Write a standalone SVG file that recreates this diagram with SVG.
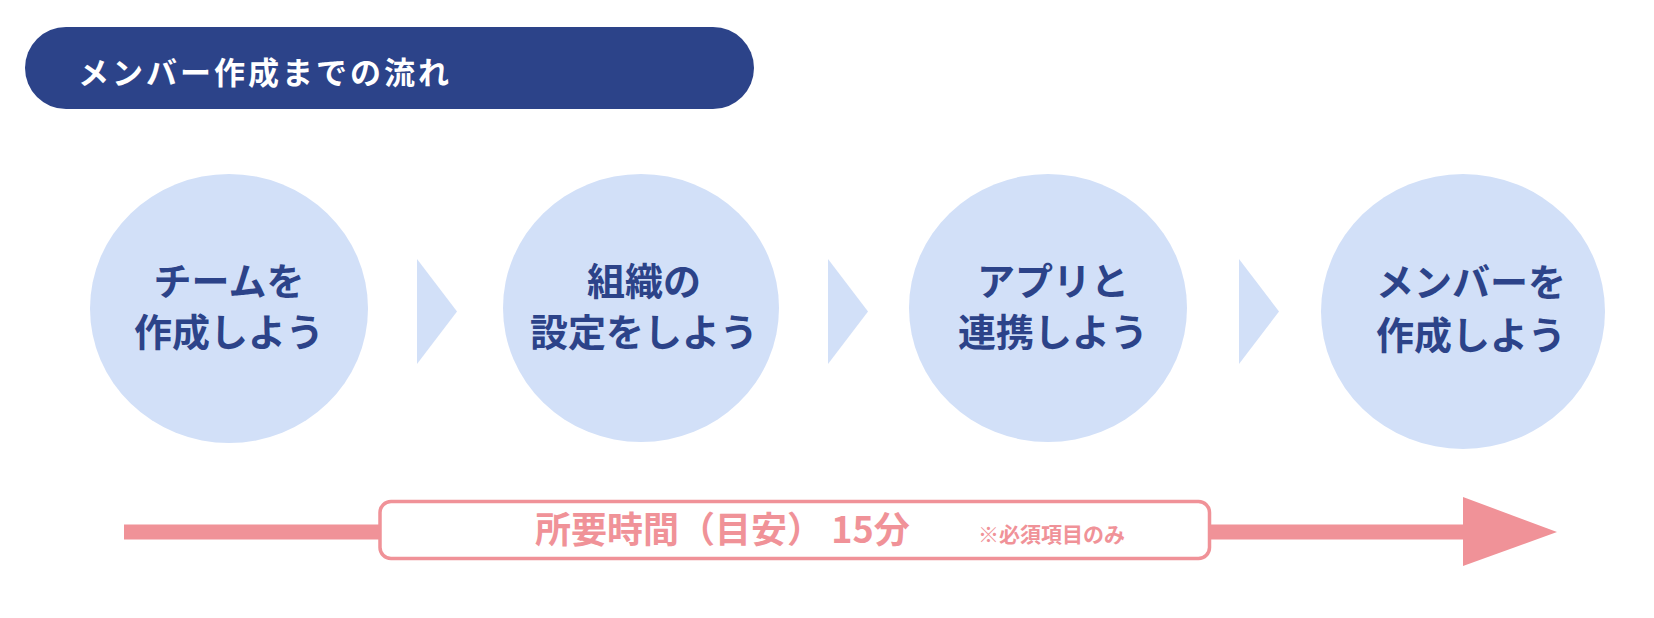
<svg xmlns="http://www.w3.org/2000/svg" width="1654" height="618" viewBox="0 0 1654 618">
  <style>
    .jp { font-family: "Noto Sans CJK JP", "Noto Sans CJK SC", sans-serif; font-weight: 700; }
    .step { fill: #D2E0F8; }
    .chev { fill: #D2E0F8; }
    .steptxt { fill: #2C4389; font-size: 38px; text-anchor: middle; }
    .pink { fill: #F09298; }
  </style>
  <rect width="1654" height="618" fill="#FFFFFF"/>

  <g id="title">
    <rect x="25" y="27" width="729" height="82" rx="41" ry="41" fill="#2C4389"/>
    <text class="jp" x="78" y="84" font-size="31" letter-spacing="3" fill="#FFFFFF">メンバー作成までの流れ</text>
  </g>

  <g id="step1">
    <ellipse class="step" cx="229" cy="308.5" rx="139" ry="134.5"/>
    <text class="jp steptxt"><tspan x="229" y="295">チームを</tspan><tspan x="229" y="346">作成しよう</tspan></text>
  </g>
  <g id="step2">
    <ellipse class="step" cx="641" cy="308" rx="138" ry="134"/>
    <text class="jp steptxt"><tspan x="644" y="295">組織の</tspan><tspan x="644" y="346">設定をしよう</tspan></text>
  </g>
  <g id="step3">
    <ellipse class="step" cx="1048" cy="308" rx="139" ry="134"/>
    <text class="jp steptxt"><tspan x="1053" y="295">アプリと</tspan><tspan x="1053" y="346">連携しよう</tspan></text>
  </g>
  <g id="step4">
    <ellipse class="step" cx="1463" cy="311.5" rx="142" ry="137.5"/>
    <text class="jp steptxt"><tspan x="1471" y="296">メンバーを</tspan><tspan x="1471" y="349">作成しよう</tspan></text>
  </g>

  <g id="connectors">
    <polygon class="chev" points="417,259 457,311.5 417,364"/>
    <polygon class="chev" points="828,259 868,311.5 828,364"/>
    <polygon class="chev" points="1239,259 1279,311.5 1239,364"/>
  </g>

  <g id="timeline">
    <rect class="pink" x="124" y="524.5" width="1345" height="15"/>
    <polygon class="pink" points="1463,497 1557,532 1463,566"/>
    <rect x="380" y="501.5" width="829.5" height="57" rx="11" ry="11" fill="#FFFFFF" stroke="#F09298" stroke-width="3.5"/>
    <text class="jp pink" x="535" y="543" font-size="36">所要時間（目安） 15分</text>
    <text class="jp pink" x="978" y="542" font-size="21">※必須項目のみ</text>
  </g>
</svg>
